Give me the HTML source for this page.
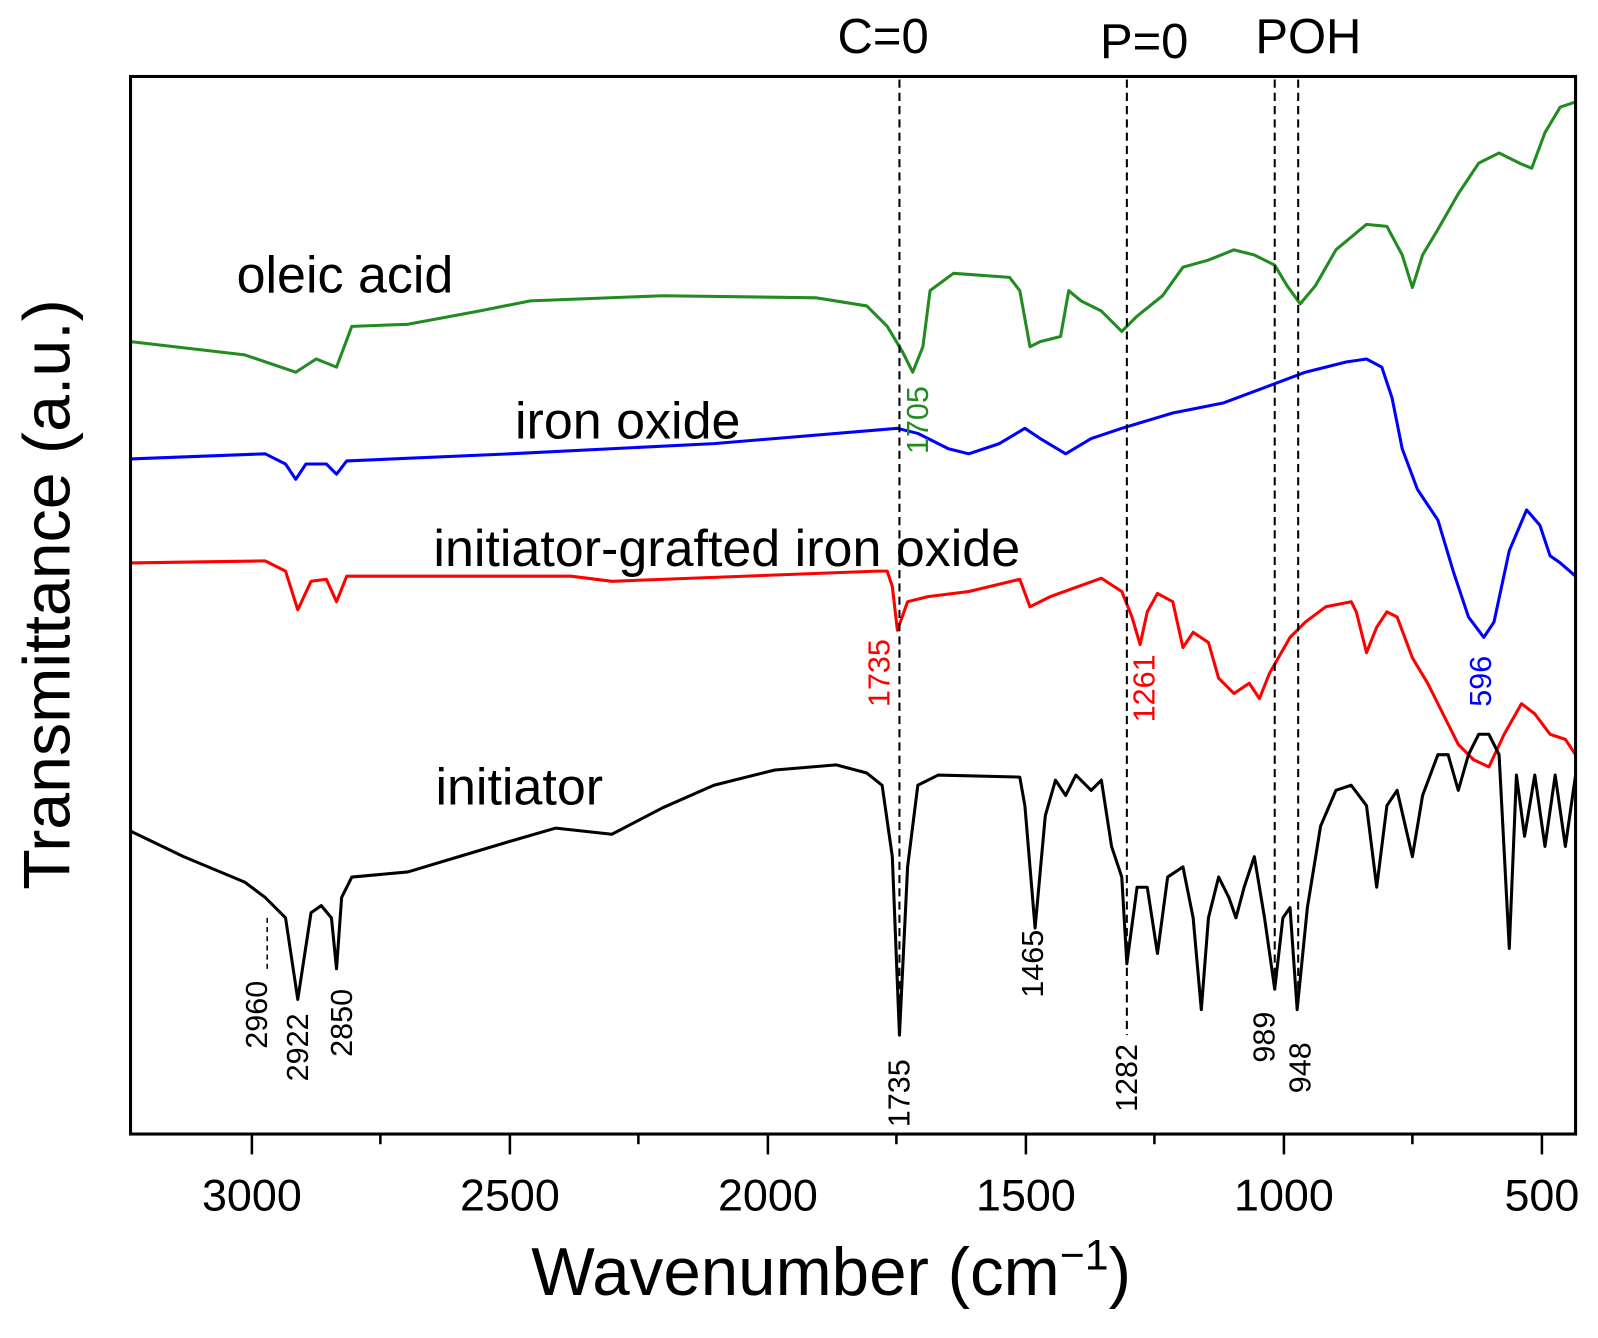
<!DOCTYPE html>
<html><head><style>body{margin:0;background:#fff}svg{display:block}</style></head><body>
<svg width="1598" height="1338" viewBox="0 0 1567 1312" preserveAspectRatio="none" xmlns="http://www.w3.org/2000/svg" font-family="Liberation Sans, sans-serif">
<rect width="1567" height="1312" fill="#fff"/>
<g fill="none" stroke-width="3" stroke-linejoin="round">
<polyline stroke="#228b22" points="128,335 240,348 290,365 310,352 330,360 345,320 400,318 470,305 520,295 650,290 800,292 850,300 870,320 885,345 895,365 905,340 912,285 935,268 990,272 1000,285 1010,340 1020,335 1040,330 1048,285 1060,295 1080,305 1100,325 1115,310 1140,290 1160,262 1185,255 1210,245 1230,250 1250,260 1262,280 1275,298 1290,280 1310,245 1340,220 1360,222 1375,250 1385,282 1395,250 1410,225 1430,190 1440,175 1450,160 1470,150 1490,160 1502,165 1515,130 1530,105 1545,100"/>
<polyline stroke="#0000ff" points="128,450 260,445 280,455 290,470 300,455 320,455 330,465 340,452 500,445 700,435 880,420 900,425 930,440 950,445 980,435 1005,420 1020,430 1045,445 1070,430 1100,420 1150,405 1200,395 1240,380 1280,365 1320,355 1340,352 1355,360 1365,390 1375,440 1390,480 1410,510 1425,560 1440,605 1455,625 1465,610 1480,540 1497,500 1510,515 1520,545 1530,552 1545,565"/>
<polyline stroke="#ff0000" points="128,552 260,550 280,560 292,598 305,570 320,568 330,590 340,565 560,565 600,570 860,560 870,560 875,575 880,618 890,590 910,585 950,580 1000,568 1010,595 1030,585 1080,567 1100,580 1110,605 1118,632 1125,600 1135,582 1150,590 1160,635 1170,620 1185,630 1195,665 1210,680 1225,670 1235,685 1245,660 1265,625 1280,610 1300,595 1325,590 1330,600 1340,640 1350,615 1360,600 1370,605 1385,645 1400,670 1415,700 1430,730 1445,745 1460,752 1475,720 1492,690 1505,700 1520,720 1535,725 1545,740"/>
<polyline stroke="#000" points="128,815 180,840 240,865 260,880 280,900 292,980 305,895 315,888 325,900 330,950 335,880 345,860 400,855 450,840 500,825 545,812 600,818 650,792 700,770 760,755 820,750 850,758 865,770 875,840 882,1015 890,850 900,770 920,760 1000,762 1005,790 1015,910 1025,800 1035,765 1045,780 1055,760 1070,775 1080,765 1090,830 1100,860 1105,945 1115,870 1125,870 1135,935 1145,860 1160,850 1170,900 1178,990 1185,900 1195,860 1205,880 1212,900 1220,870 1230,840 1240,900 1250,970 1258,900 1265,890 1272,990 1282,890 1295,810 1310,775 1325,770 1340,790 1350,870 1360,790 1370,775 1385,840 1395,780 1410,740 1420,740 1430,775 1440,740 1450,720 1460,720 1470,740 1480,930 1487,760 1495,820 1505,760 1515,830 1525,760 1535,830 1545,760"/>
</g>
<g stroke="#000" stroke-width="2" stroke-dasharray="8,5">
<line x1="882" y1="78" x2="882" y2="1015"/><line x1="1105" y1="78" x2="1105" y2="1015"/>
<line x1="1250" y1="78" x2="1250" y2="960"/><line x1="1273" y1="78" x2="1273" y2="975"/>
</g>
<rect x="128" y="75" width="1417" height="1037" fill="none" stroke="#000" stroke-width="3"/>
<g stroke="#000" stroke-width="2.5">
<line x1="247" y1="1112" x2="247" y2="1132"/><line x1="500" y1="1112" x2="500" y2="1132"/><line x1="753" y1="1112" x2="753" y2="1132"/><line x1="1006" y1="1112" x2="1006" y2="1132"/><line x1="1259" y1="1112" x2="1259" y2="1132"/><line x1="1512" y1="1112" x2="1512" y2="1132"/>
<line x1="373" y1="1112" x2="373" y2="1122"/><line x1="626" y1="1112" x2="626" y2="1122"/><line x1="879" y1="1112" x2="879" y2="1122"/><line x1="1132" y1="1112" x2="1132" y2="1122"/><line x1="1385" y1="1112" x2="1385" y2="1122"/>
</g>
<g font-size="44" text-anchor="middle">
<text x="247" y="1187">3000</text><text x="500" y="1187">2500</text><text x="753" y="1187">2000</text><text x="1006" y="1187">1500</text><text x="1259" y="1187">1000</text><text x="1512" y="1187">500</text>
</g>
<text x="815" y="1270" font-size="66" text-anchor="middle">Wavenumber (cm<tspan font-size="42" dy="-25">−1</tspan><tspan dy="25">)</tspan></text>
<text transform="translate(68,583) rotate(-90)" font-size="65" text-anchor="middle">Transmittance (a.u.)</text>
<g font-size="48" text-anchor="middle"><text x="866" y="52">C=0</text><text x="1122" y="57">P=0</text><text x="1283" y="52">POH</text></g>
<g font-size="51"><text x="232" y="287">oleic acid</text><text x="505" y="430">iron oxide</text><text x="425" y="555">initiator-grafted iron oxide</text><text x="427" y="789">initiator</text></g>
<g font-size="30" text-anchor="middle">
<text transform="translate(262,995) rotate(-90)">2960</text>
<text transform="translate(302,1027) rotate(-90)">2922</text>
<text transform="translate(345,1003) rotate(-90)">2850</text>
<text transform="translate(892,1072) rotate(-90)">1735</text>
<text transform="translate(1023,945) rotate(-90)">1465</text>
<text transform="translate(1115,1057) rotate(-90)">1282</text>
<text transform="translate(1250,1017) rotate(-90)">989</text>
<text transform="translate(1285,1047) rotate(-90)">948</text>
<text fill="#228b22" transform="translate(910,412) rotate(-90)">1705</text>
<text fill="#ff0000" transform="translate(872,660) rotate(-90)">1735</text>
<text fill="#ff0000" transform="translate(1132,675) rotate(-90)">1261</text>
<text fill="#0000ff" transform="translate(1462,668) rotate(-90)">596</text>
</g>
<line x1="262" y1="900" x2="262" y2="950" stroke="#000" stroke-width="1.5" stroke-dasharray="5,4"/>
</svg>
</body></html>
